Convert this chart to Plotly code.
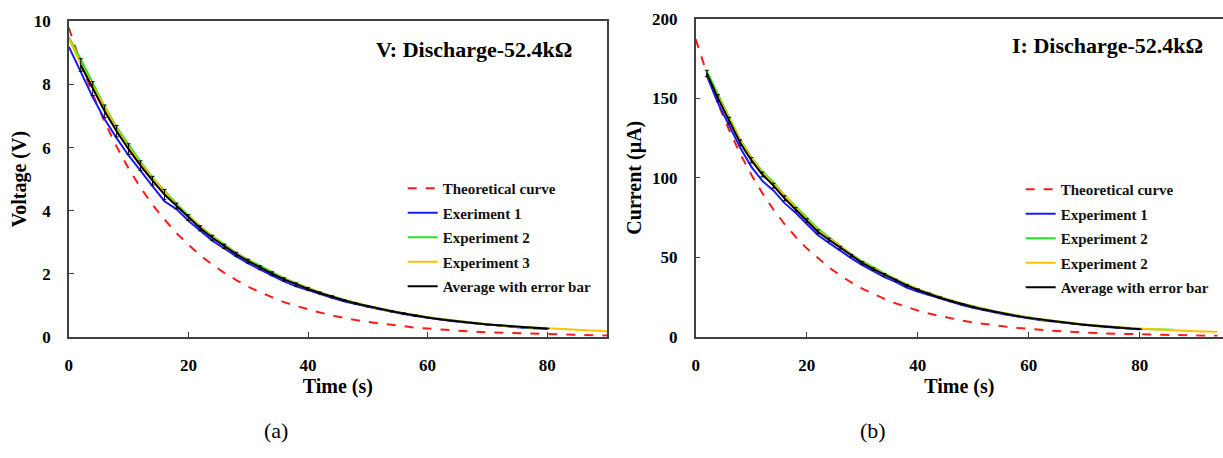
import plotly.graph_objects as go

# ---------------- data ----------------
t_theory = list(range(0, 96, 2))
v_theory = [9.80, 8.68, 7.69, 6.81, 6.03, 5.34, 4.73, 4.19, 3.72, 3.29, 2.92, 2.58, 2.29, 2.03,
            1.80, 1.59, 1.41, 1.25, 1.10, 0.98, 0.87, 0.77, 0.68, 0.60, 0.53, 0.47, 0.42, 0.37,
            0.33, 0.29, 0.26, 0.23, 0.20, 0.18, 0.16, 0.14, 0.13, 0.11, 0.10, 0.09, 0.08, 0.07,
            0.06, 0.05, 0.05, 0.04, 0.04, 0.03]
i_theory = [187.0, 165.6, 146.7, 130.0, 115.1, 102.0, 90.3, 80.0, 70.9, 62.8, 55.6, 49.3, 43.6,
            38.7, 34.2, 30.3, 26.9, 23.8, 21.1, 18.7, 16.5, 14.6, 13.0, 11.5, 10.2, 9.0, 8.0,
            7.1, 6.3, 5.6, 4.9, 4.4, 3.9, 3.4, 3.0, 2.7, 2.4, 2.1, 1.9, 1.7, 1.5, 1.3, 1.2,
            1.0, 0.9, 0.8, 0.7, 0.7]

# Voltage experiments
t_v1 = list(range(0, 82, 2))
v_exp1 = [9.20, 8.40, 7.60, 6.90, 6.30, 5.75, 5.25, 4.78, 4.30, 4.05, 3.68, 3.35, 3.05, 2.80,
          2.55, 2.33, 2.13, 1.94, 1.76, 1.60, 1.48, 1.35, 1.24, 1.13, 1.03, 0.95, 0.87, 0.79,
          0.72, 0.66, 0.60, 0.55, 0.50, 0.46, 0.42, 0.38, 0.35, 0.32, 0.29, 0.27, 0.25]
t_v2 = list(range(0, 82, 2))
v_exp2 = [9.50, 8.80, 8.05, 7.30, 6.65, 6.08, 5.55, 5.05, 4.62, 4.22, 3.85, 3.50, 3.20, 2.92,
          2.66, 2.45, 2.25, 2.06, 1.86, 1.70, 1.55, 1.41, 1.29, 1.17, 1.07, 0.98, 0.89, 0.82,
          0.75, 0.68, 0.62, 0.57, 0.52, 0.48, 0.44, 0.40, 0.36, 0.33, 0.30, 0.28, 0.26]
t_v3 = list(range(0, 92, 2))
v_exp3 = [9.45, 8.65, 7.95, 7.25, 6.60, 6.02, 5.50, 5.02, 4.60, 4.18, 3.82, 3.48, 3.18, 2.90,
          2.65, 2.42, 2.20, 2.01, 1.84, 1.68, 1.54, 1.40, 1.28, 1.17, 1.07, 0.97, 0.89, 0.81,
          0.74, 0.68, 0.62, 0.57, 0.52, 0.47, 0.43, 0.40, 0.36, 0.33, 0.31, 0.29, 0.28, 0.26,
          0.24, 0.22, 0.20, 0.18]
t_avg = list(range(2, 82, 2))
v_avg = [8.62, 7.87, 7.15, 6.52, 5.95, 5.43, 4.95, 4.51, 4.15, 3.78, 3.44, 3.14, 2.87, 2.62,
         2.40, 2.19, 2.00, 1.82, 1.66, 1.52, 1.39, 1.27, 1.16, 1.06, 0.97, 0.88, 0.81, 0.74,
         0.67, 0.61, 0.56, 0.51, 0.47, 0.43, 0.39, 0.36, 0.33, 0.30, 0.28, 0.26]
v_err = [0.20, 0.22, 0.20, 0.18, 0.17, 0.15, 0.14, 0.16, 0.09, 0.09, 0.08, 0.08, 0.07, 0.06,
         0.06, 0.06, 0.06, 0.05, 0.05, 0.04, 0.03, 0.03, 0.02, 0.02, 0.02, 0.01, 0.02, 0.02,
         0.02, 0.01, 0.01, 0.01, 0.01, 0.01, 0.01, 0.01, 0.01, 0.01, 0.01, 0.01]

# Current experiments
t_i1 = list(range(2, 82, 2))
i_exp1 = [164, 147, 133, 119, 107, 98, 92, 84, 78, 71, 64, 59, 54, 49.5, 45, 41, 37.5, 34.5, 31,
          28.5, 26.3, 24, 22, 20, 18.2, 16.6, 15.2, 13.9, 12.7, 11.6, 10.6, 9.7, 8.9, 8.1,
          7.4, 6.8, 6.2, 5.7, 5.2, 4.7]
t_i2 = list(range(2, 88, 2))
i_exp2 = [167, 152, 138, 124, 113, 104, 97, 89, 82, 75, 68, 62.5, 57, 52, 47.5, 43.5, 39.8,
          36.3, 33, 30, 27.5, 25, 22.9, 20.9, 19.1, 17.4, 15.9, 14.6, 13.3, 12.2, 11.1, 10.2,
          9.3, 8.5, 7.8, 7.1, 6.5, 6.0, 5.5, 5.1, 4.8, 4.6, 4.5]
t_i3 = list(range(2, 96, 2))
i_exp3 = [165, 151, 137.5, 123.5, 112.5, 103, 96, 88.5, 81, 74, 67, 62, 56.5, 51.5, 47, 43,
          39.3, 36, 32.8, 30, 27.3, 25, 22.8, 20.8, 19, 17.3, 15.8, 14.5, 13.2, 12.1, 11.1,
          10.1, 9.3, 8.5, 7.8, 7.1, 6.5, 6.0, 5.5, 5.1, 4.7, 4.4, 4.1, 3.8, 3.5, 3.3, 3.1]
t_iavg = list(range(2, 82, 2))
i_avg = [165.5, 150, 136, 122, 111, 102, 95, 87, 80, 73, 66, 61, 56, 51, 46.5, 42.5, 39, 35.5,
         32.3, 29.5, 27, 24.6, 22.5, 20.5, 18.7, 17.1, 15.6, 14.3, 13, 11.9, 10.9, 9.9, 9.1,
         8.3, 7.6, 6.9, 6.3, 5.8, 5.3, 4.8]
i_err = [2.0, 2.2, 2.0, 1.8, 1.7, 1.5, 1.5, 1.6, 1.2, 1.2, 1.2, 1.0, 0.9, 0.8, 0.8, 0.8, 0.7,
         0.7, 0.6, 0.6, 0.5, 0.5, 0.4, 0.4, 0.4, 0.3, 0.3, 0.3, 0.3, 0.3, 0.2, 0.2, 0.2, 0.2,
         0.2, 0.2, 0.2, 0.2, 0.2, 0.2]

x_ticks = [0, 20, 40, 60, 80]
v_ticks = [0, 2, 4, 6, 8, 10]
i_ticks = [0, 50, 100, 150, 200]

names_left = ["Theoretical curve", "Exeriment 1", "Experiment 2", "Experiment 3", "Average with error bar"]
names_right = ["Theoretical curve", "Experiment 1", "Experiment 2", "Experiment 2", "Average with error bar"]

# ---------------- styling ----------------
FONT = '"Liberation Serif", "Times New Roman", Times, serif'
RED, BLUE, GREEN, ORANGE, BLACK = "#ff1a1a", "#1a1aff", "#22e622", "#ffc000", "#000000"
AXC = "#404040"

fig = go.Figure()

def add_set(xa, ya, leg, names, tt, yt, t1, y1, t2, y2, t3, y3, ta, ya_, err):
    fig.add_trace(go.Scatter(x=tt, y=yt, mode="lines", name=names[0],
                             line=dict(color=RED, width=2, dash="dash"),
                             xaxis=xa, yaxis=ya, legend=leg, legendgroup=leg + "a"))
    fig.add_trace(go.Scatter(x=t1, y=y1, mode="lines", name=names[1],
                             line=dict(color=BLUE, width=2),
                             xaxis=xa, yaxis=ya, legend=leg, legendgroup=leg + "b"))
    fig.add_trace(go.Scatter(x=t2, y=y2, mode="lines", name=names[2],
                             line=dict(color=GREEN, width=2),
                             xaxis=xa, yaxis=ya, legend=leg, legendgroup=leg + "c"))
    fig.add_trace(go.Scatter(x=t3, y=y3, mode="lines", name=names[3],
                             line=dict(color=ORANGE, width=2),
                             xaxis=xa, yaxis=ya, legend=leg, legendgroup=leg + "d"))
    fig.add_trace(go.Scatter(x=ta, y=ya_, mode="lines", name=names[4],
                             line=dict(color=BLACK, width=2),
                             error_y=dict(type="data", array=err, visible=True,
                                          color=BLACK, thickness=1, width=2),
                             xaxis=xa, yaxis=ya, legend=leg, legendgroup=leg + "e"))

add_set("x", "y", "legend", names_left, t_theory[:46], v_theory[:46], t_v1, v_exp1, t_v2, v_exp2,
        t_v3, v_exp3, t_avg, v_avg, v_err)
add_set("x2", "y2", "legend2", names_right, t_theory, i_theory, t_i1, i_exp1, t_i2, i_exp2,
        t_i3, i_exp3, t_iavg, i_avg, i_err)

tickfont = dict(family=FONT, size=17, color="black", weight="bold")
titlefont = dict(family=FONT, size=20, color="black", weight="bold")
W, H = 1223, 458

def xax(domain, rng, anchor):
    return dict(domain=domain, range=rng, anchor=anchor, tickvals=x_ticks, ticks="inside",
                ticklen=5, tickcolor=AXC, showline=True, linecolor=AXC, linewidth=1.5,
                mirror=True, showgrid=False, zeroline=False, tickfont=tickfont,
                ticklabelstandoff=12,
                title=dict(text="Time (s)", font=titlefont, standoff=2))

def yax(domain, rng, anchor, ticks, title, mirror, standoff):
    return dict(domain=domain, range=rng, anchor=anchor, tickvals=ticks, ticks="inside",
                ticklen=5, tickcolor=AXC, showline=True, linecolor=AXC, linewidth=1.5,
                mirror=mirror, showgrid=False, zeroline=False, tickfont=tickfont,
                ticklabelstandoff=13,
                title=dict(text=title, font=titlefont, standoff=standoff))

legfont = dict(family=FONT, size=15, color="#111", weight="bold")

fig.update_layout(
    width=W, height=H,
    margin=dict(l=0, r=0, t=0, b=0),
    paper_bgcolor="white", plot_bgcolor="white",
    xaxis=xax([65 / W, 605 / W], [0, 90], "y"),
    yaxis=yax([(H - 342) / H, (H - 13) / H], [0, 10], "x", v_ticks, "Voltage (V)", True, 2),
    xaxis2=xax([694 / W, 1.0], [0, 95], "y2"),
    yaxis2=yax([(H - 342) / H, (H - 10) / H], [0, 200], "x2", i_ticks, "Current (µA)", False, 5),
    legend=dict(x=400 / W, y=(H - 170) / H, xanchor="left", yanchor="top",
                bgcolor="rgba(0,0,0,0)", font=legfont, itemwidth=30,
                traceorder="grouped", tracegroupgap=2),
    legend2=dict(x=1020 / W, y=(H - 171) / H, xanchor="left", yanchor="top",
                 bgcolor="rgba(0,0,0,0)", font=legfont, itemwidth=30,
                 traceorder="grouped", tracegroupgap=2),
    annotations=[
        dict(text="V: Discharge-52.4kΩ", xref="paper", yref="paper", x=572 / W, y=(H - 42) / H,
             xanchor="right", yanchor="middle", showarrow=False,
             font=dict(family=FONT, size=22, color="black", weight="bold")),
        dict(text="I: Discharge-52.4kΩ", xref="paper", yref="paper", x=1205 / W, y=(H - 38) / H,
             xanchor="right", yanchor="middle", showarrow=False,
             font=dict(family=FONT, size=22, color="black", weight="bold")),
        dict(text="(a)", xref="paper", yref="paper", x=273 / W, y=(H - 440) / H,
             xanchor="center", yanchor="middle", showarrow=False,
             font=dict(family=FONT, size=22, color="black")),
        dict(text="(b)", xref="paper", yref="paper", x=872 / W, y=(H - 440) / H,
             xanchor="center", yanchor="middle", showarrow=False,
             font=dict(family=FONT, size=22, color="black")),
    ],
)

fig.write_html("out.html")
